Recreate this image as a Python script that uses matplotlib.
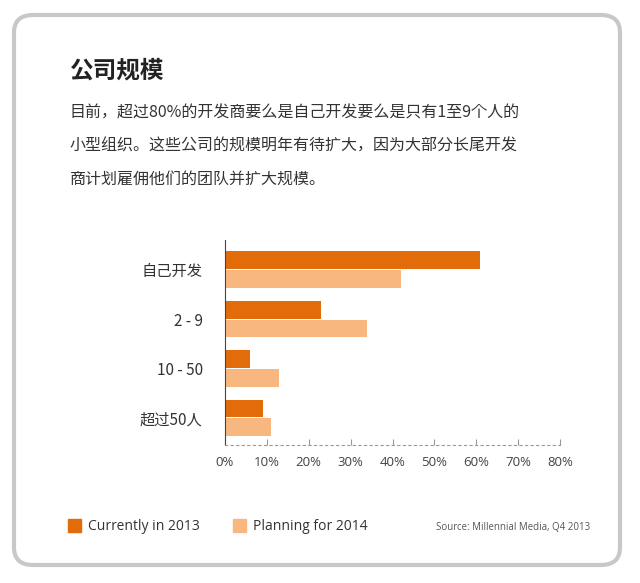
import matplotlib
matplotlib.use("Agg")
import matplotlib.pyplot as plt
from matplotlib import font_manager as fm
from matplotlib.patches import FancyBboxPatch

categories = ["自己开发", "2 - 9", "10 - 50", "超过50人"]
current_2013 = [61, 23, 6, 9]
planning_2014 = [42, 34, 13, 11]
xticks = [0, 10, 20, 30, 40, 50, 60, 70, 80]

cjk = None
for f in fm.fontManager.ttflist:
    if "CJK" in f.name and ("SC" in f.name or cjk is None):
        cjk = f.name
        if "SC" in f.name:
            break
cjk_path = None
if cjk is None:
    for p in fm.findSystemFonts():
        if "CJK" in p or "cjk" in p.lower():
            cjk_path = p
            break
    if cjk_path:
        fm.fontManager.addfont(cjk_path)
        cjk = fm.FontProperties(fname=cjk_path).get_name()
cjk = cjk or "Noto Sans CJK SC"

plt.rcParams["font.family"] = ["Open Sans", cjk]
W, H = 640, 583
fig = plt.figure(figsize=(W/100, H/100), dpi=100)
fig.patch.set_facecolor("white")
box = FancyBboxPatch((14/W, 18/H), 606/W, 550/H, boxstyle="round,pad=0,rounding_size=0.03",
                     transform=fig.transFigure, fill=False, ec="#c8c8c8", lw=3)
fig.patches.append(box)

fig.text(70/W, 1-70/H, "公司规模", fontsize=17, fontweight="bold", color="#222", va="center",
         family=cjk)
lines = ["目前，超过80%的开发商要么是自己开发要么是只有1至9个人的",
         "小型组织。这些公司的规模明年有待扩大，因为大部分长尾开发",
         "商计划雇佣他们的团队并扩大规模。"]
for i, l in enumerate(lines):
    fig.text(70/W, 1-(113+33*i)/H, l, fontsize=11.5, color="#333", va="center", family=cjk)

ax = fig.add_axes([225/W, 1-445/H, 335/W, 205/H])
c1, c2 = "#e36c0a", "#f7b77f"
n = len(categories)
ys = list(range(n))
h = 0.36
ax.barh([y - h/2 - 0.01 for y in ys], current_2013, height=h, color=c1)
ax.barh([y + h/2 + 0.01 for y in ys], planning_2014, height=h, color=c2)
ax.set_ylim(n - 0.45, -0.6)
ax.set_xlim(0, 80)
ax.set_xticks(xticks)
ax.set_xticklabels([f"{t}%" for t in xticks], fontsize=9.5, color="#444")
ax.set_yticks(ys)
ax.set_yticklabels(categories, fontsize=11, color="#333", family=cjk)
for s in ["top", "right"]:
    ax.spines[s].set_visible(False)
ax.spines["left"].set_color("#444")
ax.spines["bottom"].set_linestyle((0, (2, 3)))
ax.spines["bottom"].set_color("#999")
ax.tick_params(axis="y", length=0, pad=16)
ax.tick_params(axis="x", length=4, color="#999", direction="in", pad=8)

fig.patches.append(plt.Rectangle((68/W, 1-532/H), 13/W, 13/H, transform=fig.transFigure, color=c1))
fig.text(88/W, 1-526/H, "Currently in 2013", fontsize=10, color="#333", va="center")
fig.patches.append(plt.Rectangle((233/W, 1-532/H), 13/W, 13/H, transform=fig.transFigure, color=c2))
fig.text(253/W, 1-526/H, "Planning for 2014", fontsize=10, color="#333", va="center")
fig.text(590/W, 1-528/H, "Source: Millennial Media, Q4 2013", fontsize=7, color="#555", va="center", ha="right")

fig.savefig("out.png", dpi=100)
